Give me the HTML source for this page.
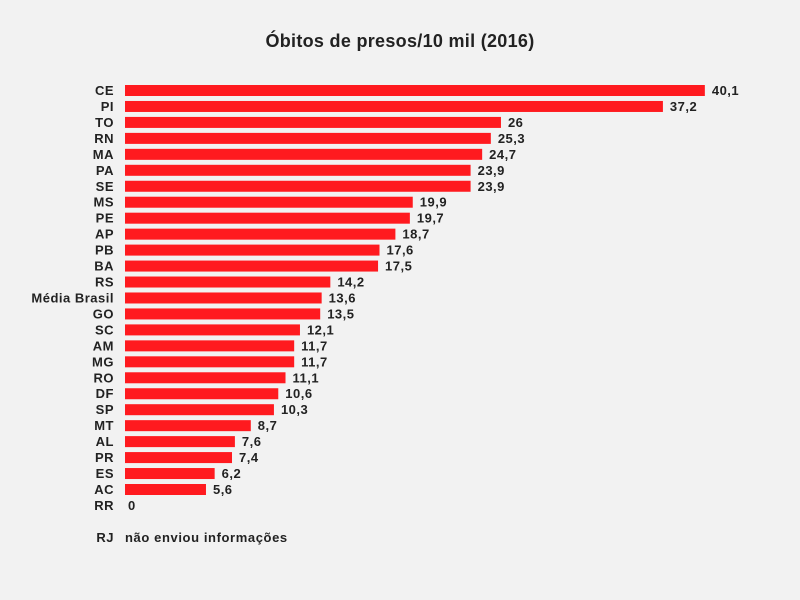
<!DOCTYPE html><html><head><meta charset="utf-8"><style>body{margin:0;background:#f2f2f2}svg{display:block}text{font-family:"Liberation Sans",sans-serif;font-weight:bold;fill:#222}</style></head><body>
<svg width="800" height="600" xmlns="http://www.w3.org/2000/svg">
<rect width="800" height="600" fill="#f2f2f2"/>
<text x="400" y="47" text-anchor="middle" font-size="18" letter-spacing="0.3">Óbitos de presos/10 mil (2016)</text>
<g id="g" font-size="13" letter-spacing="0.5"></g>
<text x="114" y="542" text-anchor="end" font-size="13" fill="#333" letter-spacing="0.5">RJ</text>
<text x="125" y="542" font-size="13" letter-spacing="0.6">não enviou informações</text>
</svg>
<script>
var d=[["CE",40.1],["PI",37.2],["TO",26],["RN",25.3],["MA",24.7],["PA",23.9],["SE",23.9],["MS",19.9],["PE",19.7],["AP",18.7],["PB",17.6],["BA",17.5],["RS",14.2],["Média Brasil",13.6],["GO",13.5],["SC",12.1],["AM",11.7],["MG",11.7],["RO",11.1],["DF",10.6],["SP",10.3],["MT",8.7],["AL",7.6],["PR",7.4],["ES",6.2],["AC",5.6],["RR",0]];
var g=document.getElementById("g"),s="";
d.forEach(function(r,i){var y=85+i*15.96,w=r[1]*14.46;
s+='<text x="114" y="'+(y+10)+'" text-anchor="end" fill="#333">'+r[0]+'</text>';
if(w>0)s+='<rect x="125" y="'+y+'" width="'+w+'" height="11" fill="#ff1a1f"/>';
s+='<text x="'+(125+w+(w>0?7:3))+'" y="'+(y+10)+'">'+String(r[1]).replace(".",",")+'</text>';});
g.innerHTML=s;
</script>
</body></html>
